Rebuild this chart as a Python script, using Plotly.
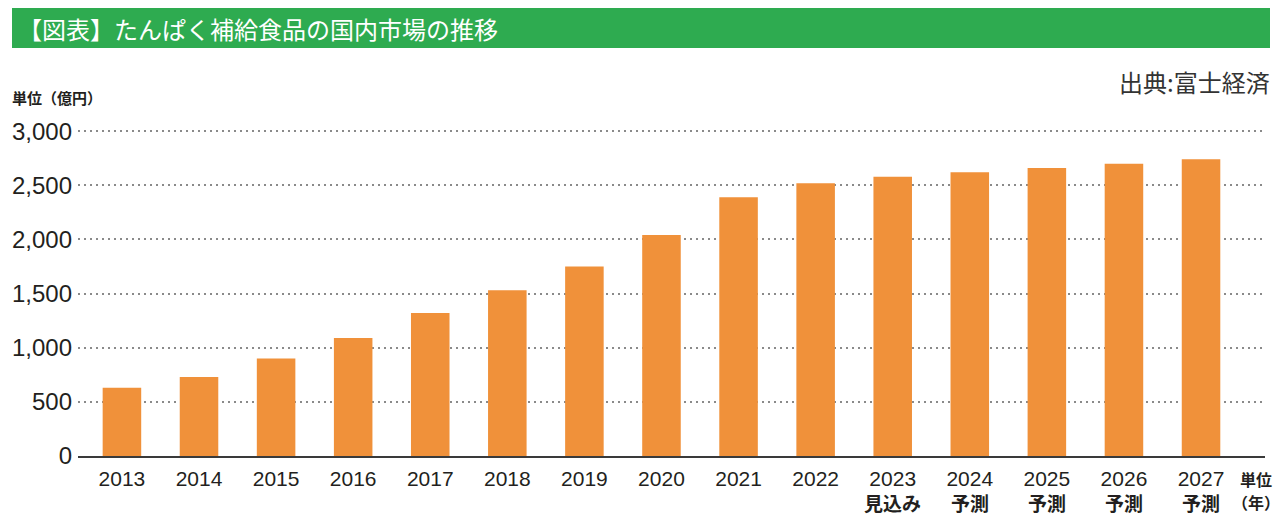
import plotly.graph_objects as go

years = ["2013", "2014", "2015", "2016", "2017", "2018", "2019", "2020",
         "2021", "2022", "2023", "2024", "2025", "2026", "2027"]
notes = ["", "", "", "", "", "", "", "", "", "", "見込み", "予測", "予測", "予測", "予測"]
values = [630, 730, 900, 1090, 1320, 1530, 1750, 2040, 2390, 2520, 2580, 2620, 2660, 2700, 2740]
y_ticks = [0, 500, 1000, 1500, 2000, 2500, 3000]

W, H = 1280, 526
L, R, T, B = 78, 15, 129, 70
PW, PH = W - L - R, H - T - B


def px(x):
    return (x - L) / PW


def py(y):
    return (H - B - y) / PH


LAT = "Liberation Sans, Arial, Noto Sans CJK JP"
CJK = "Noto Sans CJK JP, Liberation Sans"

xs = list(range(len(years)))

fig = go.Figure(go.Bar(
    x=xs, y=values,
    marker=dict(color="#f0913a", line=dict(width=0)),
    width=0.5, hoverinfo="skip",
))

annotations = [
    dict(text="【図表】たんぱく補給食品の国内市場の推移", xref="paper", yref="paper",
         x=px(16), y=py(28), xanchor="left", yanchor="middle", showarrow=False,
         font=dict(family=CJK, size=24, color="white")),
    dict(text="<b>単位（億円）</b>", xref="paper", yref="paper",
         x=px(10), y=py(97), xanchor="left", yanchor="middle", showarrow=False,
         font=dict(family=CJK, size=15, color="#231f20")),
    dict(text="出典:富士経済", xref="paper", yref="paper",
         x=px(1272), y=py(82), xanchor="right", yanchor="middle", showarrow=False,
         font=dict(family=CJK, size=24, color="#333333")),
    dict(text="<b>単位</b>", xref="paper", yref="paper",
         x=px(1256), y=py(479), xanchor="center", yanchor="middle", showarrow=False,
         font=dict(family=CJK, size=16, color="#231f20")),
    dict(text="<b>（年）</b>", xref="paper", yref="paper",
         x=px(1256), y=py(502), xanchor="center", yanchor="middle", showarrow=False,
         font=dict(family=CJK, size=16, color="#231f20")),
]
for xi, n in zip(xs, notes):
    if n:
        annotations.append(dict(
            text=f"<b>{n}</b>", xref="x", yref="paper", x=xi, y=py(502),
            xanchor="center", yanchor="middle", showarrow=False,
            font=dict(family=CJK, size=19, color="#231f20")))

fig.update_layout(
    width=W, height=H,
    margin=dict(l=L, r=R, t=T, b=B),
    paper_bgcolor="white", plot_bgcolor="white",
    showlegend=False,
    xaxis=dict(
        range=[-0.57, 14.83],
        tickmode="array", tickvals=xs, ticktext=years,
        tickfont=dict(family=LAT, size=21, color="#231f20"),
        showgrid=False, zeroline=False,
        showline=True, linecolor="#3a3a3a", linewidth=1.5,
        ticks="", ticklabelstandoff=3,
    ),
    yaxis=dict(
        range=[0, 3020],
        tickmode="array", tickvals=y_ticks,
        tickformat=",d",
        tickfont=dict(family=LAT, size=24, color="#231f20"),
        showgrid=True, gridcolor="#8a8a8a", gridwidth=2, griddash="2px,4px",
        zeroline=False, showline=False, ticks="", ticklabelstandoff=5,
    ),
    shapes=[dict(
        type="rect", xref="paper", yref="paper",
        x0=px(12), x1=px(1270), y0=py(48), y1=py(8),
        fillcolor="#2eab50", line=dict(width=0), layer="below",
    )],
    annotations=annotations,
)

fig.write_html("out.html", config={"displayModeBar": False},
               post_script="document.body.style.margin='0';document.body.style.overflow='hidden';")
